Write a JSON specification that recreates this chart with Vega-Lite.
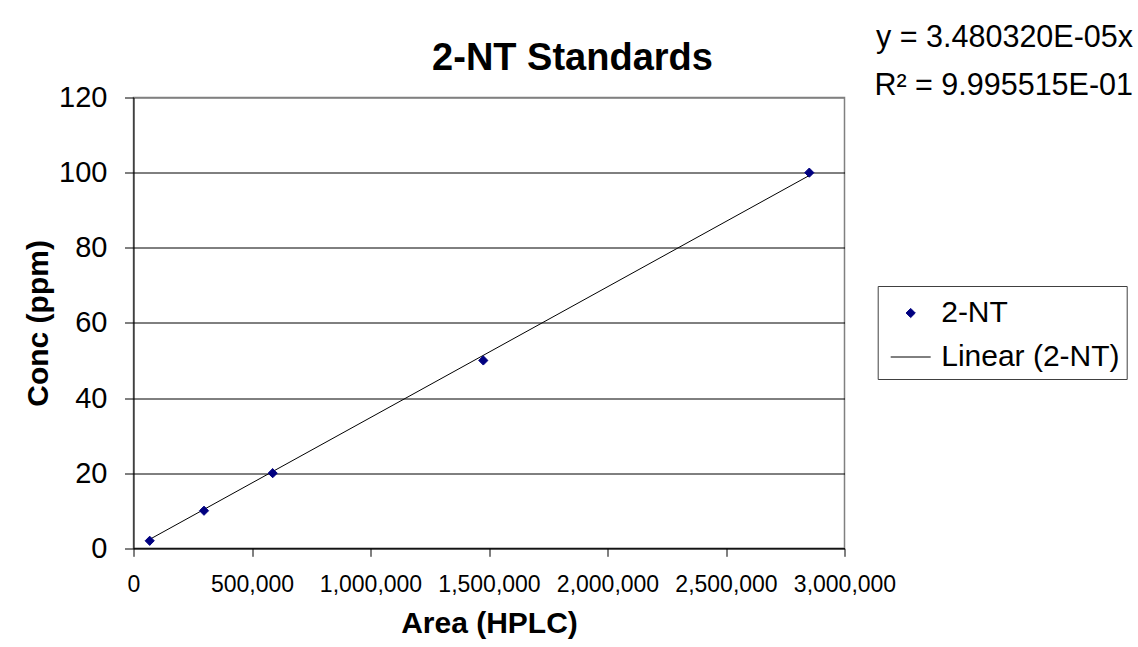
{
  "$schema": "https://vega.github.io/schema/vega-lite/v6.json",
  "autosize": "none",
  "width": 711,
  "height": 450.8,
  "padding": {"left": 133.5, "top": 97.5, "right": 293.5, "bottom": 98.7},
  "background": "white",
  "config": {
    "font": "Liberation Sans",
    "view": {"stroke": "#808080", "strokeWidth": 1.5},
    "axis": {"labelColor": "black", "titleColor": "black", "tickColor": "black", "domainColor": "black", "labelFont": "Liberation Sans", "titleFont": "Liberation Sans"}
  },
  "title": {
    "text": "2-NT Standards",
    "fontSize": 38,
    "fontWeight": "bold",
    "font": "Liberation Sans",
    "color": "black",
    "anchor": "middle",
    "frame": "group",
    "dx": 83.5,
    "dy": 99,
    "baseline": "bottom",
    "offset": 6
  },
  "datasets": {
    "points": [
      {"area": 68400, "conc": 2, "series": "2-NT"},
      {"area": 297500, "conc": 10, "series": "2-NT"},
      {"area": 587300, "conc": 20, "series": "2-NT"},
      {"area": 1476000, "conc": 50, "series": "2-NT"},
      {"area": 2851500, "conc": 100, "series": "2-NT"}
    ],
    "trend": [
      {"area": 68400, "conc": 2.381, "series": "Linear (2-NT)"},
      {"area": 2851500, "conc": 99.24, "series": "Linear (2-NT)"}
    ],
    "equation": [
      {"label": ["y = 3.480320E-05x", "R² = 9.995515E-01"]}
    ]
  },
  "layer": [
    {
      "data": {"name": "trend"},
      "mark": {"type": "line", "color": "black", "strokeWidth": 1},
      "encoding": {
        "x": {
          "field": "area", "type": "quantitative",
          "scale": {"domain": [0, 3000000], "nice": false, "zero": false},
          "axis": {
            "title": "Area (HPLC)",
            "titleFontSize": 30, "titleFontWeight": "bold", "titlePadding": 12,
            "values": [0, 500000, 1000000, 1500000, 2000000, 2500000, 3000000],
            "format": ",d",
            "labelFontSize": 23, "labelPadding": 17, "tickSize": 8,
            "grid": false, "labelFlush": false, "labelOverlap": false
          }
        },
        "y": {
          "field": "conc", "type": "quantitative",
          "scale": {"domain": [0, 120], "nice": false},
          "axis": {
            "title": "Conc (ppm)",
            "titleFontSize": 30, "titleFontWeight": "bold", "titlePadding": 5,
            "values": [0, 20, 40, 60, 80, 100, 120],
            "labelFontSize": 29, "labelPadding": 17.5, "tickSize": 9,
            "grid": true,
            "gridColor": {"condition": {"test": "datum.value === 120", "value": "#808080"}, "value": "black"},
            "gridWidth": {"condition": {"test": "datum.value === 120", "value": 1.5}, "value": 1},
            "gridOpacity": 1,
            "labelFlush": false, "labelOverlap": false
          }
        }
      }
    },
    {
      "data": {"name": "points"},
      "mark": {"type": "point", "filled": false, "fill": "#000080", "fillOpacity": 1, "opacity": 1, "strokeWidth": 1, "size": 1600},
      "encoding": {
        "x": {"field": "area", "type": "quantitative"},
        "y": {"field": "conc", "type": "quantitative"},
        "color": {
          "field": "series", "type": "nominal",
          "scale": {"domain": ["2-NT", "Linear (2-NT)"], "range": ["#000080", "#000000"]},
          "legend": {
            "title": null,
            "orient": "none",
            "legendX": 744.2,
            "legendY": 188.5,
            "padding": 6.5,
            "symbolOffset": 6,
            "strokeColor": "#404040",
            "fillColor": "white",
            "labelFontSize": 30,
            "labelFont": "Liberation Sans",
            "labelColor": "black",
            "labelOffset": 10,
            "labelLimit": 400,
            "symbolSize": 1600,
            "symbolStrokeWidth": 1,
            "symbolFillColor": "#000080",
            "symbolOpacity": 1,
            "rowPadding": 8
          }
        },
        "shape": {
          "field": "series", "type": "nominal",
          "scale": {"domain": ["2-NT", "Linear (2-NT)"], "range": ["M0,-0.23L0.23,0L0,0.23L-0.23,0Z", "stroke"]}
        }
      }
    },
    {
      "data": {"name": "equation"},
      "mark": {"type": "text", "align": "right", "baseline": "alphabetic", "fontSize": 30.5, "font": "Liberation Sans", "color": "black", "lineHeight": 48, "dx": 288.5, "dy": -50.8},
      "encoding": {
        "x": {"datum": 3000000, "type": "quantitative"},
        "y": {"datum": 120, "type": "quantitative"},
        "text": {"field": "label"}
      }
    }
  ]
}
